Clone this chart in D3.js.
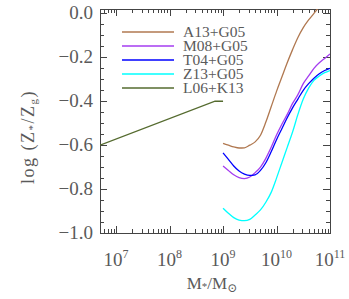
<!DOCTYPE html>
<html>
<head>
<meta charset="utf-8">
<script src="https://cdn.jsdelivr.net/npm/d3@7"></script>
<style>
  body { margin: 0; background: #fff; }
  text { font-family: "Liberation Serif", "DejaVu Serif", serif; fill: #5a5a5a; }
</style>
</head>
<body>
<div id="chart"></div>
<script>
// log10(M*/Msun) grid for the G05 curves
const logMass = [9.0, 9.1, 9.2, 9.3, 9.4, 9.5, 9.6, 9.7, 9.8, 9.9, 10.0,
                 10.1, 10.2, 10.3, 10.4, 10.5, 10.6, 10.7, 10.8, 10.9, 11.0];
const a13 = [-0.592, -0.600, -0.608, -0.613, -0.612, -0.600, -0.585, -0.555, -0.495, -0.425, -0.355,
             -0.29, -0.225, -0.165, -0.11, -0.065, -0.03, 0.0, 0.03, 0.05, 0.07];
const m08 = [-0.695, -0.715, -0.735, -0.748, -0.752, -0.745, -0.725, -0.70, -0.66, -0.61, -0.554,
             -0.505, -0.46, -0.41, -0.37, -0.32, -0.285, -0.25, -0.225, -0.205, -0.185];
const t04 = [-0.635, -0.665, -0.695, -0.718, -0.732, -0.738, -0.735, -0.715, -0.68, -0.63, -0.575,
             -0.525, -0.475, -0.43, -0.39, -0.35, -0.32, -0.295, -0.275, -0.26, -0.25];
const z13 = [-0.887, -0.910, -0.930, -0.941, -0.944, -0.938, -0.918, -0.895, -0.86, -0.815, -0.75,
             -0.68, -0.61, -0.54, -0.46, -0.39, -0.34, -0.305, -0.285, -0.27, -0.26];
// L06+K13 line
const logMassL06 = [6.7, 8.85, 9.0];
const l06 = [-0.60, -0.40, -0.40];

const seriesNames = ["A13+G05", "M08+G05", "T04+G05", "Z13+G05", "L06+K13"];
const seriesColors = ["#b07850", "#a43cf0", "#0000ff", "#00ffff", "#556b2f"];
const yTicks = [0.0, -0.2, -0.4, -0.6, -0.8, -1.0];
const xTicks = [7, 8, 9, 10, 11];

const W = 349, H = 299;
const margin = { top: 9, right: 19, bottom: 66, left: 100 };
const width = W - margin.left - margin.right,
      height = H - margin.top - margin.bottom;

const svg = d3.select("#chart").append("svg")
    .attr("width", W).attr("height", H);

const g = svg.append("g").attr("transform", `translate(${margin.left},${margin.top})`);

const x = d3.scaleLog().domain([5e6, 1e11]).range([0, width]);
const y = d3.scaleLinear().domain([-1.0, 0.02]).range([height, 0]);

// clip
svg.append("defs").append("clipPath").attr("id", "clip")
    .append("rect").attr("width", width).attr("height", height);

const axisColor = "#444";

// frame
g.append("rect").attr("x", 0.5).attr("y", 0.5).attr("width", width).attr("height", height)
    .attr("fill", "none").attr("stroke", axisColor).attr("stroke-width", 1);

// y ticks (major + minor), inward on both sides
const yMinor = d3.range(-1.0, 0.0001, 0.05);
yMinor.forEach(v => {
    const major = Math.abs(v * 5 - Math.round(v * 5)) < 1e-6;
    const len = major ? 7 : 4;
    const yy = Math.round(y(v)) + 0.5;
    g.append("line").attr("x1", 0).attr("x2", len).attr("y1", yy).attr("y2", yy).attr("stroke", axisColor);
    g.append("line").attr("x1", width).attr("x2", width - len).attr("y1", yy).attr("y2", yy).attr("stroke", axisColor);
});

// x ticks (log major + minor)
const xAll = [];
for (let e = 6; e <= 10; e++) for (let k = 1; k <= 9; k++) xAll.push(k * Math.pow(10, e));
xAll.push(1e11);
xAll.filter(v => v >= 5e6 && v <= 1e11).forEach(v => {
    const major = Math.abs(Math.log10(v) - Math.round(Math.log10(v))) < 1e-9;
    const len = major ? 7 : 4;
    const xx = Math.round(x(v)) + 0.5;
    g.append("line").attr("x1", xx).attr("x2", xx).attr("y1", height).attr("y2", height - len).attr("stroke", axisColor);
    g.append("line").attr("x1", xx).attr("x2", xx).attr("y1", 0).attr("y2", len).attr("stroke", axisColor);
});

// y tick labels
g.selectAll(".ylab").data(yTicks).enter().append("text")
    .attr("x", -7).attr("y", d => y(d) + 6)
    .attr("text-anchor", "end").style("font-size", "19px")
    .text(d => d === 0 ? "0.0" : "\u2212" + Math.abs(d).toFixed(1));

// x tick labels 10^n
xTicks.forEach(e => {
    const t = g.append("text").attr("x", x(Math.pow(10, e))).attr("y", height + 33)
        .attr("text-anchor", "middle").style("font-size", "19px");
    t.append("tspan").text("10");
    t.append("tspan").attr("dy", -8).style("font-size", "12px").text(e);
});

// axis titles
const xt = g.append("text").attr("x", width / 2 - 3).attr("y", height + 56)
    .attr("text-anchor", "middle").style("font-size", "17px");
xt.append("tspan").text("M");
xt.append("tspan").style("font-size", "11px").attr("dy", 1).text("*");
xt.append("tspan").attr("dy", -1).text("/M");
xt.append("tspan").style("font-size", "12px").attr("dy", 3).text("\u2299");

const yt = svg.append("text").attr("transform", `translate(34,${margin.top + 128}) rotate(-90)`)
    .attr("text-anchor", "middle").style("font-size", "18px").style("letter-spacing", "1.5px");
yt.append("tspan").text("log (Z");
yt.append("tspan").style("font-size", "11px").attr("dy", 2).text("*");
yt.append("tspan").attr("dy", -2).text("/Z");
yt.append("tspan").style("font-size", "11px").attr("dy", 3).text("g");
yt.append("tspan").attr("dy", -3).text(")");

// lines
const line = d3.line().x(d => x(Math.pow(10, d[0]))).y(d => y(d[1])).curve(d3.curveMonotoneX);
const plot = g.append("g").attr("clip-path", "url(#clip)");
const seriesData = [a13, m08, t04, z13].map(s => logMass.map((m, i) => [m, s[i]]));
seriesData.push(logMassL06.map((m, i) => [m, l06[i]]));

seriesData.forEach((d, i) => {
    plot.append("path").datum(d)
        .attr("d", i === 4 ? d3.line().x(p => x(Math.pow(10, p[0]))).y(p => y(p[1]))(d) : line(d))
        .attr("fill", "none").attr("stroke", seriesColors[i]).attr("stroke-width", 1.3);
});

// legend
const legend = g.append("g");
seriesNames.forEach((n, i) => {
    const ly = 23 + i * 14;
    legend.append("line").attr("x1", 22).attr("x2", 74).attr("y1", ly).attr("y2", ly)
        .attr("stroke", seriesColors[i]).attr("stroke-width", 1.3);
    legend.append("text").attr("x", 83).attr("y", ly + 5).style("font-size", "15.5px").text(n);
});
</script>
</body>
</html>
